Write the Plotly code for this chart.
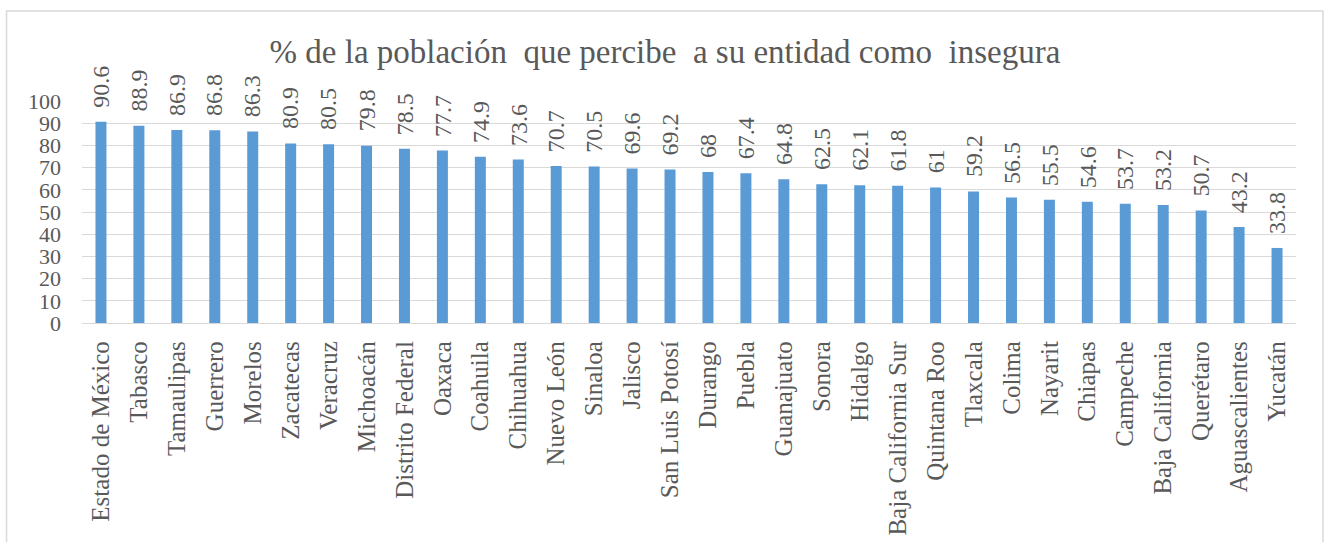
import plotly.graph_objects as go

states = ["Estado de México", "Tabasco", "Tamaulipas", "Guerrero", "Morelos", "Zacatecas",
          "Veracruz", "Michoacán", "Distrito Federal", "Oaxaca", "Coahuila", "Chihuahua",
          "Nuevo León", "Sinaloa", "Jalisco", "San Luis Potosí", "Durango", "Puebla",
          "Guanajuato", "Sonora", "Hidalgo", "Baja California Sur", "Quintana Roo", "Tlaxcala",
          "Colima", "Nayarit", "Chiapas", "Campeche", "Baja California", "Querétaro",
          "Aguascalientes", "Yucatán"]
values = [90.6, 88.9, 86.9, 86.8, 86.3, 80.9, 80.5, 79.8, 78.5, 77.7, 74.9, 73.6,
          70.7, 70.5, 69.6, 69.2, 68, 67.4, 64.8, 62.5, 62.1, 61.8, 61, 59.2,
          56.5, 55.5, 54.6, 53.7, 53.2, 50.7, 43.2, 33.8]
y_ticks = [0, 10, 20, 30, 40, 50, 60, 70, 80, 90, 100]
title_text = "% de la población  que percibe  a su entidad como  insegura"

FONT = "Times New Roman"
TXT = "#595959"
GRID = "#d9d9d9"

W, H = 1328, 542
L, R, T, B = 81.5, W - 1296, 101, H - 323
PW, PH = W - L - R, H - T - B

fig = go.Figure(go.Bar(
    x=states, y=values,
    marker=dict(color="#5b9bd5", line=dict(width=0)),
    cliponaxis=False,
    hoverinfo="x+y",
))

for s, v in zip(states, values):
    fig.add_annotation(x=s, y=v, text=f"{v:g}", showarrow=False, textangle=-90,
                       xanchor="center", yanchor="bottom", yshift=12,
                       font=dict(family=FONT, size=24, color=TXT))

fig.update_layout(
    width=W, height=H,
    margin=dict(l=L, r=R, t=T, b=B, autoexpand=False),
    paper_bgcolor="white", plot_bgcolor="white",
    bargap=0.71,
    showlegend=False,
    title=dict(text=title_text, x=665 / W, xref="container", xanchor="center",
               y=1 - 51 / H, yanchor="middle",
               font=dict(family=FONT, size=33, color=TXT)),
    shapes=[dict(type="rect", xref="paper", yref="paper",
                 x0=(6 - L) / PW, x1=(1323 - L) / PW,
                 y0=(323 - 560) / PH, y1=(323 - 11) / PH,
                 line=dict(color="#d9d9d9", width=1.5), fillcolor="rgba(0,0,0,0)",
                 layer="below")],
)
fig.update_yaxes(range=[0, 100], tickvals=y_ticks, showgrid=True, gridcolor=GRID, gridwidth=1.3,
                 zeroline=False, showline=False, ticks="", ticklabelstandoff=20,
                 automargin=False,
                 tickfont=dict(family=FONT, size=22, color=TXT))
fig.update_xaxes(tickangle=-90, showline=True, linecolor=GRID, linewidth=1.3, ticks="",
                 ticklabelstandoff=7, automargin=False,
                 tickfont=dict(family=FONT, size=25, color=TXT))

fig.write_html("out.html", config={"displayModeBar": False},
               post_script="document.body.style.margin='0';")
